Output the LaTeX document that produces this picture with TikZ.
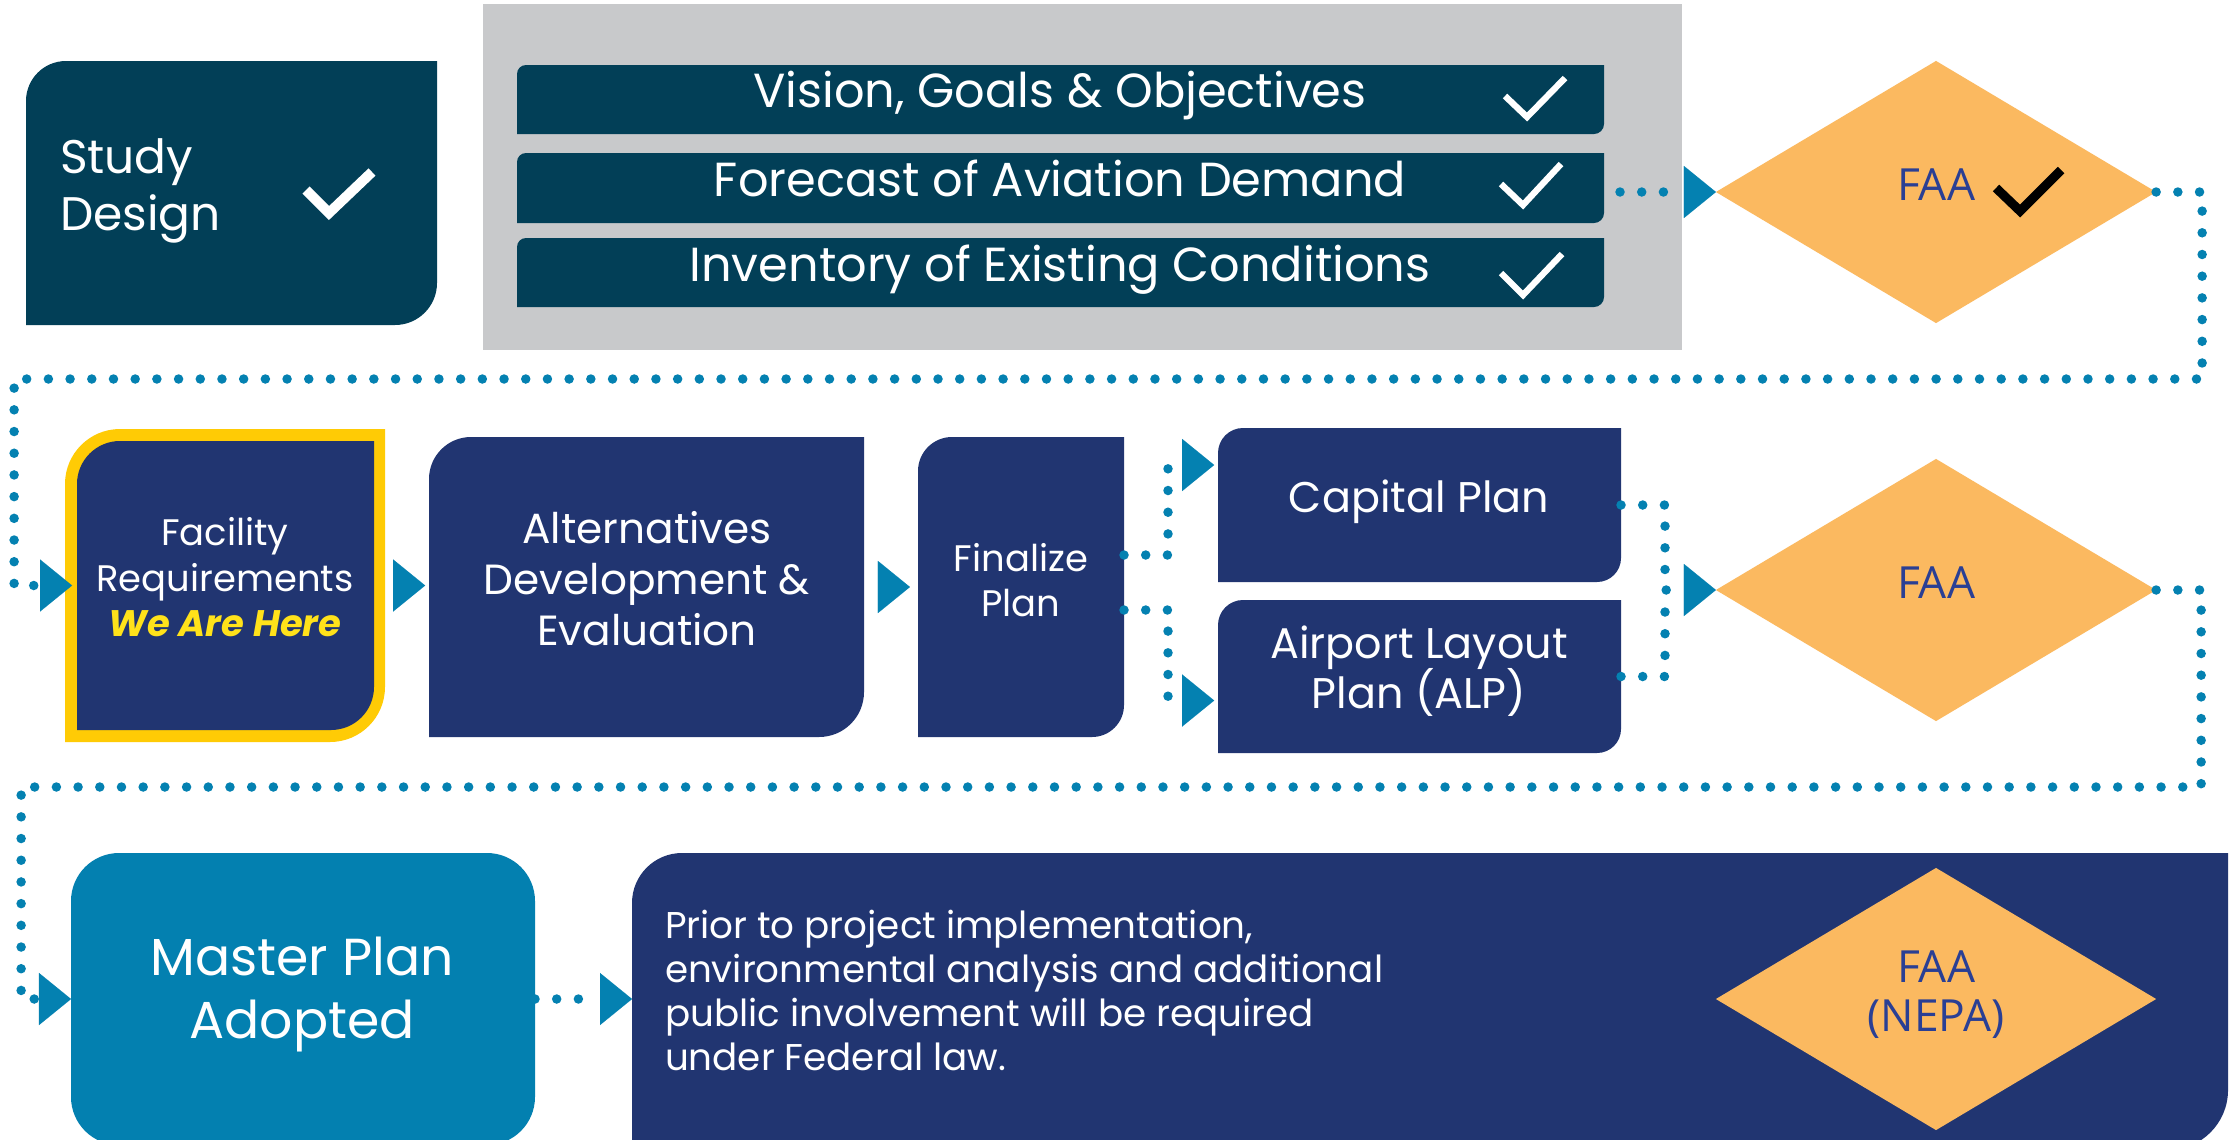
\documentclass[tikz,border=0pt]{standalone}
\usepackage{fontspec}
\setmainfont{Poppins}
\newfontfamily\faafont{Open Sans}
\usetikzlibrary{arrows.meta,fit,calc,shapes.geometric}
\definecolor{cDark}{HTML}{023F57}
\definecolor{cNavy}{HTML}{213571}
\definecolor{cGray}{HTML}{C8C9CB}
\definecolor{cBlue}{HTML}{0481B1}
\definecolor{cMaster}{HTML}{0380B0}
\definecolor{cOrange}{HTML}{FBB960}
\definecolor{cYellow}{HTML}{FFCB05}
\definecolor{cYellowTxt}{HTML}{FFE21A}
\definecolor{cFaa}{HTML}{2A3F94}
\newcommand\fixedlines{\lineskiplimit=-20pt\relax}
% box with rounded top-left (#6) and bottom-right (#7) corners, y downwards
\newcommand\tlbrshape[7]{%
  \fill[#1] (#2,#5) -- (#2,{#3+#6})
    .. controls (#2,{#3+0.4477*#6}) and ({#2+0.4477*#6},#3) .. ({#2+#6},#3)
    -- (#4,#3) -- (#4,{#5-#7})
    .. controls (#4,{#5-0.4477*#7}) and ({#4-0.4477*#7},#5) .. ({#4-#7},#5)
    -- cycle;}
\begin{document}
\begin{tikzpicture}[x=0.01cm,y=-0.01cm,
  region/.style={inner sep=0pt, outer sep=0pt},
  txt/.style={inner sep=0pt, outer sep=0pt, text=white, align=center, anchor=base},
  faatxt/.style={inner sep=0pt, text=cFaa, align=center, anchor=base, font=\faafont\fontsize{12.6}{13.7}\selectfont\fixedlines},
  tick/.style={line width=#1, line cap=butt, line join=miter},
  faadia/.style={diamond, fill=cOrange, minimum width=4.4cm, minimum height=2.62cm, inner sep=0pt, outer sep=0pt},
  tip/.style={-{Triangle[length=9.1pt,width=14.8pt,line width=0.01pt]}},
  dotplain/.style={draw=cBlue, line width=2.7pt, line cap=round, dash pattern=on 0pt off 6.17pt},
  dotline/.style={dotplain, tip},
  tri/.style={draw=cBlue, line width=0.01pt, dash pattern=on 0pt off 200pt, tip}]
\useasboundingbox (0,0) rectangle (2237,1139);
\fill[white] (0,0) rectangle (2237,1139);
\clip (0,0) rectangle (2237,1139);

% ---- row 1 (multi-line text nodes are placed by the baseline of their last line)
\tlbrshape{cDark}{26}{61}{437}{325}{40}{42}
\node[region, fit={(26,61) (437,325)}] (study) {};
\node[txt, anchor=base west, align=left, font=\fontsize{13.4}{16.2}\selectfont] (studyT) at (60,230) {Study\\Design};
\draw[white, tick=2.85pt] (306,190) -- (329,213) -- (372,172);

\fill[cGray] (483,4) rectangle (1682,350);
\node[region, fit={(483,4) (1682,350)}] (grp) {};

\tlbrshape{cDark}{517}{65}{1604}{134}{9}{10}
\node[region, fit={(517,65) (1604,134)}] (b1) {};
\tlbrshape{cDark}{517}{153}{1604}{223}{9}{10}
\node[region, fit={(517,153) (1604,223)}] (b2) {};
\tlbrshape{cDark}{517}{238}{1604}{307}{9}{10}
\node[region, fit={(517,238) (1604,307)}] (b3) {};
\node[txt, font=\fontsize{13.6}{15}\selectfont] (b1T) at (1060,107) {Vision, Goals \& Objectives};
\node[txt, font=\fontsize{13.6}{15}\selectfont] (b2T) at (1060,196) {Forecast of Aviation Demand};
\node[txt, font=\fontsize{13.6}{15}\selectfont] (b3T) at (1060,281) {Inventory of Existing Conditions};
\draw[white, tick=1.8pt] (1505,96) -- (1527,117) -- (1565,78);
\draw[white, tick=1.8pt] (1501,184) -- (1523,205) -- (1561,164);
\draw[white, tick=1.8pt] (1501,273) -- (1523,295) -- (1562,254);

\node[faadia] (faa1) at (1936,192) {};
\node[faatxt] (faa1T) at (1936,200) {FAA};
\draw[black, tick=2.6pt] (1996,188) -- (2020,211) -- (2061,170);

\draw[dotline] ($(b2.east |- faa1.west)+(16,0)$) -- (faa1.west);

% ---- row 2
\tlbrshape{cYellow}{65}{429}{385}{742}{55}{55}
\tlbrshape{cNavy}{77}{441}{374}{730}{43}{43}
\node[region, fit={(65,429) (385,742)}] (fac) {};
\node[txt, font=\fontsize{10.5}{12.8}\selectfont] (facT) at (225,636) {Facility\\Requirements\\{\bfseries\itshape\color{cYellowTxt}We Are Here}};

\tlbrshape{cNavy}{429}{437}{864}{737}{42}{45}
\node[region, fit={(429,437) (864,737)}] (alt) {};
\node[txt, font=\fontsize{12}{14.5}\selectfont] (altT) at (647,645) {Alternatives\\Development \&\\Evaluation};

\tlbrshape{cNavy}{918}{437}{1124}{737}{34}{32}
\node[region, fit={(918,437) (1124,737)}] (fin) {};
\node[txt, font=\fontsize{10.5}{12.8}\selectfont] (finT) at (1021,616) {Finalize\\Plan};

\tlbrshape{cNavy}{1218}{428}{1621}{582}{25}{24}
\node[region, fit={(1218,428) (1621,582)}] (cap) {};
\node[txt, font=\fontsize{12.2}{14.2}\selectfont] (capT) at (1419,512) {Capital Plan};

\tlbrshape{cNavy}{1218}{600}{1621}{753}{25}{24}
\node[region, fit={(1218,600) (1621,753)}] (alp) {};
\node[txt, font=\fontsize{12.2}{14.2}\selectfont\fixedlines] (alpT) at (1419,708) {Airport Layout\\Plan (ALP)};

\node[faadia] (faa2) at (1936,590) {};
\node[faatxt] (faa2T) at (1936,598) {FAA};

\draw[dotline, shorten >=-2pt] (faa1.east) -- ++(46,0) -- ++(0,187) -- ++(-2188,0) |- (fac.west);
\draw[tri, shorten >=1.1pt] (fac.east) -- (fac.east -| alt.west);
\draw[tri, shorten >=2.3pt] (alt.east) -- (alt.east -| fin.west);
\draw[dotline, shorten >=1.1pt] ($(fin.east)+(0,-32)$) -- ++(44,0) |- ($(cap.west)+(0,-40)$);
\draw[dotline, shorten >=1.1pt] ($(fin.east)+(0,23)$) -- ++(44,0) |- ($(alp.west)+(0,24)$);
\draw[dotline] (cap.east) -- ++(44,0) |- (faa2.west);
\draw[dotplain] (alp.east) -- ++(44,0) -- ++(0,-86);

% ---- row 3
\fill[cMaster, rounded corners=13.66pt] (71,853) rectangle (535,1145);
\node[region, fit={(71,853) (535,1145)}] (mpa) {};
\node[txt, font=\fontsize{14.8}{17.9}\selectfont] (mpaT) at (302,1038) {Master Plan\\Adopted};

\tlbrshape{cNavy}{632}{853}{2228}{1150}{50}{60}
\node[region, fit={(632,853) (2228,1150)}] (env) {};
\node[txt, anchor=base west, align=left, font=\fontsize{10.6}{12.5}\selectfont\fixedlines] (envT) at (665,1070) {Prior to project implementation,\\environmental analysis and additional\\public involvement will be required\\under Federal law.};

\node[faadia] (faa3) at (1936,999) {};
\node[faatxt] (faa3T) at (1936,1031) {FAA\\(NEPA)};

\draw[dotline] (faa2.east) -- ++(45,0) -- ++(0,197) -- ++(-2180,0) |- (mpa.west);
\draw[dotline] (mpa.east) -- (mpa.east -| env.west);
\end{tikzpicture}
\end{document}
